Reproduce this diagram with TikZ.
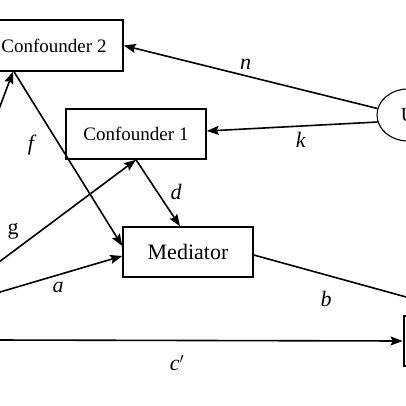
\documentclass[tikz,border=0pt]{standalone}
\usepackage{fontspec}
\setmainfont{Liberation Serif}
\usetikzlibrary{arrows.meta,shapes.geometric}
\begin{document}
\begin{tikzpicture}[x=1pt,y=-1pt,
  box/.style={draw,line width=1.5pt,inner sep=0pt,font=\fontsize{19}{22}\selectfont},
  conn/.style={line width=1.6pt,-{Stealth[length=12pt,width=9pt,inset=2pt]}},
  lab/.style={font=\fontsize{22}{24}\selectfont\itshape},
  ulab/.style={font=\fontsize{22}{24}\selectfont}]
\useasboundingbox[fill=white] (0,0) rectangle (406,406);
\node[box,minimum width=138pt,minimum height=51pt] (C2) at (54,45.5) {Confounder 2};
\node[box,minimum width=140pt,minimum height=50pt] (C1) at (136,134) {Confounder 1};
\node[box,minimum width=130pt,minimum height=50pt,font=\fontsize{22}{24}\selectfont] (M) at (188,252) {Mediator};
\node[draw,ellipse,line width=1.1pt,inner sep=0pt,minimum width=62pt,minimum height=52pt,font=\fontsize{20}{22}\selectfont] (U) at (408,115) {U};
\node[draw,line width=2.8pt,inner sep=0pt,minimum width=132pt,minimum height=50pt] (O) at (470,341) {};
\coordinate (e1) at (-4,117);
\coordinate (e2) at (-5,265);
\coordinate (e3) at (-5,293.5);
\coordinate (e4) at (-5,340);
% connectors
\draw[conn] (U.168) -- (C2.east) node[lab,pos=0.52,above=2pt] {n};
\draw[conn] (U.193) -- ([yshift=3pt]C1.east) node[lab,pos=0.45,below=2pt] {k};
\draw[conn] (e1) -- ([xshift=-41pt]C2.south);
\draw[conn] ([xshift=-40pt]C2.south) -- ([yshift=6pt]M.west);
\draw[conn] (e2) -- (C1.south);
\draw[conn] (C1.south) -- ([xshift=-8pt]M.north);
\draw[conn] (e3) -- ([yshift=-4pt]M.west);
\draw[conn] ([yshift=-3pt]M.east) -- (O.north);
\draw[conn] (e4) -- (O.west);
% labels
\node[lab] (lf) at (31,145) {f};
\node[lab] (ld) at (176,192) {d};
\node[ulab] (lg) at (13,231) {g};
\node[lab] (la) at (58,287) {a};
\node[lab] (lb) at (326,299) {b};
\node[lab] (lc) at (177,363) {c$'$};
\end{tikzpicture}
\end{document}
